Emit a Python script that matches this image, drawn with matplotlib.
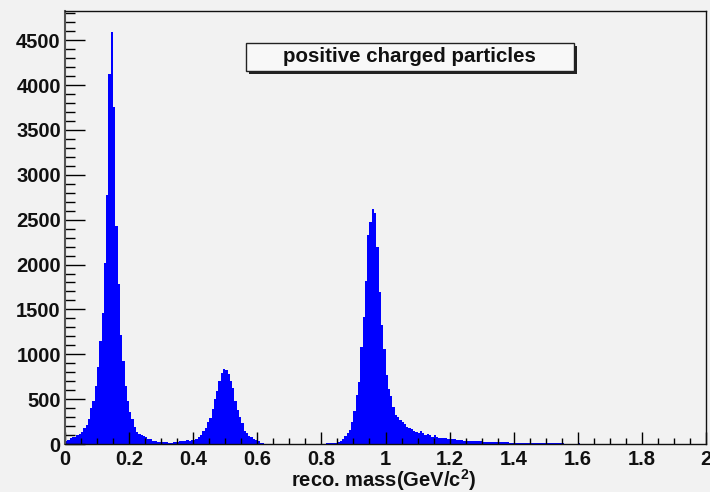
import numpy as np
import matplotlib
matplotlib.use("Agg")
import matplotlib.pyplot as plt
from matplotlib.patches import Rectangle
from matplotlib.ticker import MultipleLocator, FixedLocator

# Histogram binning: 280 bins on [0, 2] GeV/c^2
n_bins = 280
x_min, x_max = 0.0, 2.0

# Bin contents, grouped by mass region
counts_pion = [30, 44, 67, 75, 82, 104, 110, 130, 178, 215, 279, 400, 476, 650,
               854, 1151, 1456, 2020, 2777, 4128, 4596, 3756, 2431, 1781, 1217,
               920, 650, 480, 360]                                   # bins 0-28
counts_gap1 = [275, 193, 134, 111, 97, 90, 75, 60, 52, 35, 30, 25, 22, 22,
               20, 18, 15, 15, 17, 20, 22, 28, 35, 30, 42, 38, 45, 48]  # bins 29-56
counts_kaon = [52, 75, 104, 141, 178, 245, 290, 393, 497, 594, 705, 787, 835,
               824, 780, 705, 624, 483, 378, 297, 230, 148, 118, 89, 75, 52,
               45, 30]                                               # bins 57-84
counts_gap2 = [12, 7, 5, 3, 2, 2, 1, 1, 1, 0, 1, 0, 0, 0, 0, 0, 1, 0, 0,
               0, 0, 0, 1, 0, 0, 1, 1, 3, 5, 7, 8, 10, 12, 15]       # bins 85-118
counts_proton = [22, 37, 59, 89, 119, 156, 245, 371, 549, 690, 1076, 1411,
                 1820, 2332, 2474, 2615, 2571, 2192, 1694, 1330, 1054, 772,
                 609, 535, 409, 320, 297, 267, 240, 220, 195, 178, 168]  # bins 119-151
counts_tail = [148, 134, 119, 141, 119, 104, 111, 97, 82, 97, 74, 67, 67, 67,
               62, 59, 52, 52, 52, 50, 45, 45, 37, 37, 30, 30, 30, 30, 30, 28,
               22, 22, 22, 22, 22, 22, 22, 22, 22, 22, 22, 22,
               15, 15, 15, 15, 15, 15, 15, 15, 15, 15, 15, 15, 15, 15, 15,
               7, 15, 15, 15, 15, 15, 7, 12, 10, 2, 2, 2, 2, 2, 2, 6, 4]  # bins 152-225

counts = (counts_pion + counts_gap1 + counts_kaon + counts_gap2
          + counts_proton + counts_tail)
counts = counts + [0] * (n_bins - len(counts))
counts = np.array(counts, dtype=float)
edges = np.linspace(x_min, x_max, n_bins + 1)

x_ticks = [0.0, 0.2, 0.4, 0.6, 0.8, 1.0, 1.2, 1.4, 1.6, 1.8, 2.0]
x_tick_labels = ["0", "0.2", "0.4", "0.6", "0.8", "1", "1.2", "1.4", "1.6", "1.8", "2"]
y_ticks = [0, 500, 1000, 1500, 2000, 2500, 3000, 3500, 4000, 4500]
y_tick_labels = [str(v) for v in y_ticks]

title_text = "positive charged particles"
x_title = r"reco. mass(GeV/c$^{\mathbf{2}}$)"

bg = "#f2f2f2"
plt.rcParams["font.family"] = ["Liberation Sans", "DejaVu Sans"]
plt.rcParams["font.weight"] = "bold"
plt.rcParams["mathtext.fontset"] = "custom"
plt.rcParams["mathtext.rm"] = "Liberation Sans:bold"
plt.rcParams["mathtext.bf"] = "Liberation Sans:bold"
plt.rcParams["mathtext.it"] = "Liberation Sans:bold"

W, H = 710, 492
fig = plt.figure(figsize=(W / 100, H / 100), dpi=100, facecolor=bg)
ax = fig.add_axes([65 / W, (H - 444) / H, (706 - 65) / W, (444 - 11) / H])
ax.set_facecolor(bg)

ax.stairs(counts, edges, fill=True, color="#0000ff", linewidth=0.6)

ax.set_xlim(x_min, x_max)
ax.set_ylim(0, counts.max() * 1.05)

ax.xaxis.set_major_locator(FixedLocator(x_ticks))
ax.set_xticklabels(x_tick_labels)
ax.xaxis.set_minor_locator(MultipleLocator(0.05))
ax.yaxis.set_major_locator(FixedLocator(y_ticks))
ax.set_yticklabels(y_tick_labels)
ax.yaxis.set_minor_locator(MultipleLocator(100))

ax.tick_params(axis="x", which="major", direction="in", length=8.6, width=1.0,
               labelsize=14.5, pad=4, top=False)
ax.tick_params(axis="x", which="minor", direction="in", length=4.3, width=1.0, top=False)
ax.tick_params(axis="y", which="major", direction="in", length=14.4, width=1.0,
               labelsize=14.5, pad=3, right=False)
ax.tick_params(axis="y", which="minor", direction="in", length=7.2, width=1.0, right=False)
for lbl in ax.get_xticklabels() + ax.get_yticklabels():
    lbl.set_fontweight("bold")
    lbl.set_color("#111111")

for side in ["left", "right", "top", "bottom"]:
    ax.spines[side].set_color("#111111")
    ax.spines[side].set_linewidth(1.0)
ax.spines["left"].set_color("#555555")
ax.spines["left"].set_linewidth(1.5)

fig.text(384 / W, (H - 480) / H, x_title, ha="center", va="center",
         fontsize=14.5, fontweight="bold", color="#111111")

# Title pave with drop shadow
bx0, bx1, by0, by1 = 245.7, 574.0, 43.3, 70.7
shadow = Rectangle(((bx0 + 3) / W, (H - by1 - 3) / H), (bx1 - bx0) / W, (by1 - by0) / H,
                   transform=fig.transFigure, facecolor="#222222", edgecolor="none", zorder=5)
box = Rectangle((bx0 / W, (H - by1) / H), (bx1 - bx0) / W, (by1 - by0) / H,
                transform=fig.transFigure, facecolor="#f8f8f8", edgecolor="#222222",
                linewidth=1.0, zorder=6)
fig.add_artist(shadow)
fig.add_artist(box)
fig.text(409 / W, (H - 56.5) / H, title_text, ha="center", va="center",
         fontsize=14.8, fontweight="bold", color="#111111", zorder=7)

fig.savefig("out.png", dpi=100, facecolor=bg)
